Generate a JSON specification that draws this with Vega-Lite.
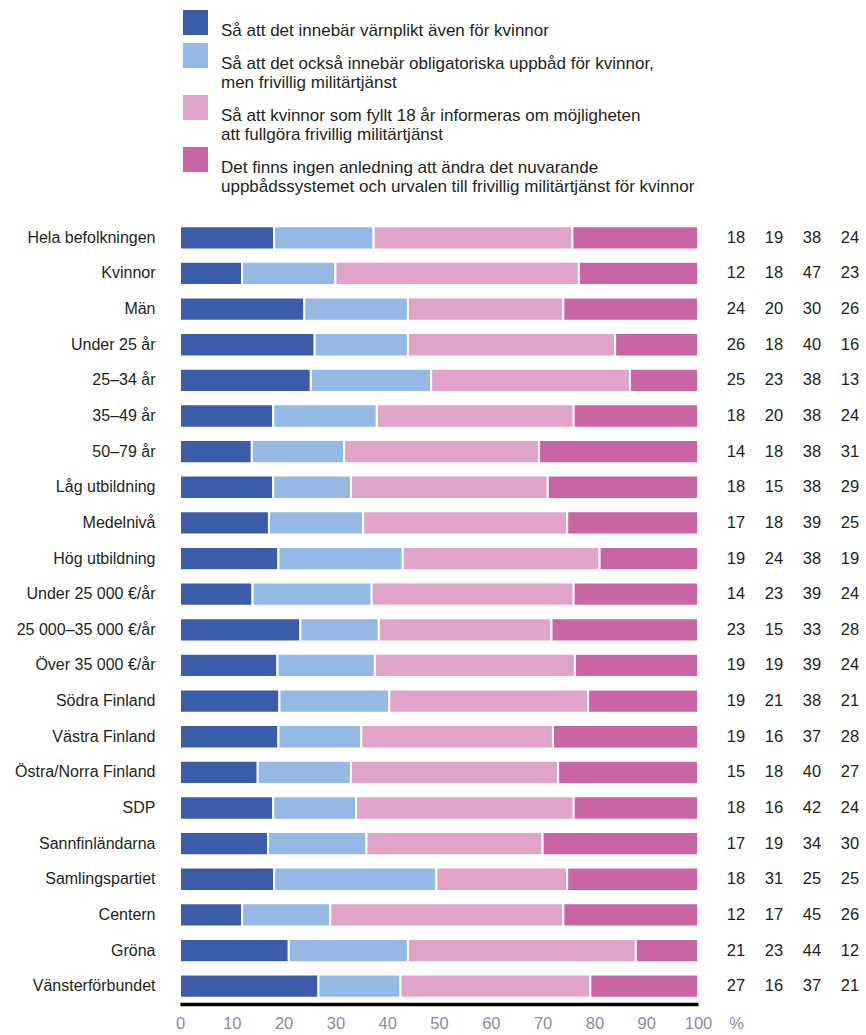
{
  "$schema": "https://vega.github.io/schema/vega-lite/v6.json",
  "width": 518,
  "height": 784,
  "autosize": {"type": "none"},
  "padding": {"left": 180, "top": 220, "right": 168, "bottom": 31},
  "background": "white",
  "config": {"view": {"stroke": null}, "font": "Liberation Sans"},
  "data": {"values": [
    {"g": "Hela befolkningen", "n": 1, "v": 18}, {"g": "Hela befolkningen", "n": 2, "v": 19}, {"g": "Hela befolkningen", "n": 3, "v": 38}, {"g": "Hela befolkningen", "n": 4, "v": 24},
    {"g": "Kvinnor", "n": 1, "v": 12}, {"g": "Kvinnor", "n": 2, "v": 18}, {"g": "Kvinnor", "n": 3, "v": 47}, {"g": "Kvinnor", "n": 4, "v": 23},
    {"g": "Män", "n": 1, "v": 24}, {"g": "Män", "n": 2, "v": 20}, {"g": "Män", "n": 3, "v": 30}, {"g": "Män", "n": 4, "v": 26},
    {"g": "Under 25 år", "n": 1, "v": 26}, {"g": "Under 25 år", "n": 2, "v": 18}, {"g": "Under 25 år", "n": 3, "v": 40}, {"g": "Under 25 år", "n": 4, "v": 16},
    {"g": "25–34 år", "n": 1, "v": 25}, {"g": "25–34 år", "n": 2, "v": 23}, {"g": "25–34 år", "n": 3, "v": 38}, {"g": "25–34 år", "n": 4, "v": 13},
    {"g": "35–49 år", "n": 1, "v": 18}, {"g": "35–49 år", "n": 2, "v": 20}, {"g": "35–49 år", "n": 3, "v": 38}, {"g": "35–49 år", "n": 4, "v": 24},
    {"g": "50–79 år", "n": 1, "v": 14}, {"g": "50–79 år", "n": 2, "v": 18}, {"g": "50–79 år", "n": 3, "v": 38}, {"g": "50–79 år", "n": 4, "v": 31},
    {"g": "Låg utbildning", "n": 1, "v": 18}, {"g": "Låg utbildning", "n": 2, "v": 15}, {"g": "Låg utbildning", "n": 3, "v": 38}, {"g": "Låg utbildning", "n": 4, "v": 29},
    {"g": "Medelnivå", "n": 1, "v": 17}, {"g": "Medelnivå", "n": 2, "v": 18}, {"g": "Medelnivå", "n": 3, "v": 39}, {"g": "Medelnivå", "n": 4, "v": 25},
    {"g": "Hög utbildning", "n": 1, "v": 19}, {"g": "Hög utbildning", "n": 2, "v": 24}, {"g": "Hög utbildning", "n": 3, "v": 38}, {"g": "Hög utbildning", "n": 4, "v": 19},
    {"g": "Under 25 000 €/år", "n": 1, "v": 14}, {"g": "Under 25 000 €/år", "n": 2, "v": 23}, {"g": "Under 25 000 €/år", "n": 3, "v": 39}, {"g": "Under 25 000 €/år", "n": 4, "v": 24},
    {"g": "25 000–35 000 €/år", "n": 1, "v": 23}, {"g": "25 000–35 000 €/år", "n": 2, "v": 15}, {"g": "25 000–35 000 €/år", "n": 3, "v": 33}, {"g": "25 000–35 000 €/år", "n": 4, "v": 28},
    {"g": "Över 35 000 €/år", "n": 1, "v": 19}, {"g": "Över 35 000 €/år", "n": 2, "v": 19}, {"g": "Över 35 000 €/år", "n": 3, "v": 39}, {"g": "Över 35 000 €/år", "n": 4, "v": 24},
    {"g": "Södra Finland", "n": 1, "v": 19}, {"g": "Södra Finland", "n": 2, "v": 21}, {"g": "Södra Finland", "n": 3, "v": 38}, {"g": "Södra Finland", "n": 4, "v": 21},
    {"g": "Västra Finland", "n": 1, "v": 19}, {"g": "Västra Finland", "n": 2, "v": 16}, {"g": "Västra Finland", "n": 3, "v": 37}, {"g": "Västra Finland", "n": 4, "v": 28},
    {"g": "Östra/Norra Finland", "n": 1, "v": 15}, {"g": "Östra/Norra Finland", "n": 2, "v": 18}, {"g": "Östra/Norra Finland", "n": 3, "v": 40}, {"g": "Östra/Norra Finland", "n": 4, "v": 27},
    {"g": "SDP", "n": 1, "v": 18}, {"g": "SDP", "n": 2, "v": 16}, {"g": "SDP", "n": 3, "v": 42}, {"g": "SDP", "n": 4, "v": 24},
    {"g": "Sannfinländarna", "n": 1, "v": 17}, {"g": "Sannfinländarna", "n": 2, "v": 19}, {"g": "Sannfinländarna", "n": 3, "v": 34}, {"g": "Sannfinländarna", "n": 4, "v": 30},
    {"g": "Samlingspartiet", "n": 1, "v": 18}, {"g": "Samlingspartiet", "n": 2, "v": 31}, {"g": "Samlingspartiet", "n": 3, "v": 25}, {"g": "Samlingspartiet", "n": 4, "v": 25},
    {"g": "Centern", "n": 1, "v": 12}, {"g": "Centern", "n": 2, "v": 17}, {"g": "Centern", "n": 3, "v": 45}, {"g": "Centern", "n": 4, "v": 26},
    {"g": "Gröna", "n": 1, "v": 21}, {"g": "Gröna", "n": 2, "v": 23}, {"g": "Gröna", "n": 3, "v": 44}, {"g": "Gröna", "n": 4, "v": 12},
    {"g": "Vänsterförbundet", "n": 1, "v": 27}, {"g": "Vänsterförbundet", "n": 2, "v": 16}, {"g": "Vänsterförbundet", "n": 3, "v": 37}, {"g": "Vänsterförbundet", "n": 4, "v": 21}
  ]},
  "encoding": {
    "y": {
      "field": "g", "type": "nominal",
      "sort": ["Hela befolkningen", "Kvinnor", "Män", "Under 25 år", "25–34 år", "35–49 år", "50–79 år", "Låg utbildning", "Medelnivå", "Hög utbildning", "Under 25 000 €/år", "25 000–35 000 €/år", "Över 35 000 €/år", "Södra Finland", "Västra Finland", "Östra/Norra Finland", "SDP", "Sannfinländarna", "Samlingspartiet", "Centern", "Gröna", "Vänsterförbundet"],
      "scale": {"paddingInner": 0.346, "paddingOuter": 0.173},
      "axis": {"title": null, "ticks": false, "tickSize": 0, "domain": false, "labelPadding": 25, "labelFontSize": 16, "labelColor": "#231f20", "labelLimit": 300}
    }
  },
  "layer": [
    {
      "mark": {"type": "bar", "stroke": "white", "strokeWidth": 2},
      "encoding": {
        "x": {
          "field": "v", "type": "quantitative", "stack": "normalize",
          "scale": {"domain": [0, 1]},
          "axis": {
            "values": [0, 0.1, 0.2, 0.3, 0.4, 0.5, 0.6, 0.7, 0.8, 0.9, 1],
            "labelExpr": "round(datum.value * 100)",
            "labelFlush": false,
            "grid": false, "ticks": false, "tickSize": 0,
            "domainColor": "#000000", "domainWidth": 3.5,
            "labelFontSize": 16.5, "labelColor": "#8d88a8", "labelPadding": 11,
            "title": "%", "titleX": 556, "titleY": 11, "titleAngle": 0, "titleAlign": "center", "titleBaseline": "top",
            "titleFontSize": 16.5, "titleFontWeight": "normal", "titleColor": "#8d88a8"
          }
        },
        "color": {
          "field": "n", "type": "ordinal",
          "scale": {"domain": [1, 2, 3, 4], "range": ["#3b5ca8", "#94b9e4", "#e0a4c9", "#c965a3"]},
          "legend": {
            "orient": "none", "legendX": 3, "legendY": -210, "title": null, "padding": 0,
            "symbolType": "square", "symbolSize": 625, "symbolStrokeWidth": 0, "symbolOpacity": 1,
            "labelFontSize": 17, "labelColor": "#231f20", "labelOffset": 13, "labelLimit": 700,
            "labelBaseline": "top", "rowPadding": 4,
            "encode": {"labels": {"update": {"dy": {"value": -11}}}},
            "labelExpr": "datum.value == 1 ? 'Så att det innebär värnplikt även för kvinnor' : datum.value == 2 ? ['Så att det också innebär obligatoriska uppbåd för kvinnor,', 'men frivillig militärtjänst'] : datum.value == 3 ? ['Så att kvinnor som fyllt 18 år informeras om möjligheten', 'att fullgöra frivillig militärtjänst'] : ['Det finns ingen anledning att ändra det nuvarande', 'uppbådssystemet och urvalen till frivillig militärtjänst för kvinnor']"
          }
        },
        "order": {"field": "n", "type": "quantitative"}
      }
    },
    {
      "mark": {"type": "text", "fontSize": 16.5, "color": "#231f20", "align": "center", "baseline": "middle"},
      "encoding": {
        "x": {"datum": 1, "type": "quantitative"},
        "xOffset": {"field": "n", "type": "ordinal", "scale": {"type": "point", "range": [38, 152], "padding": 0}},
        "text": {"field": "v", "type": "quantitative"}
      }
    }
  ]
}
